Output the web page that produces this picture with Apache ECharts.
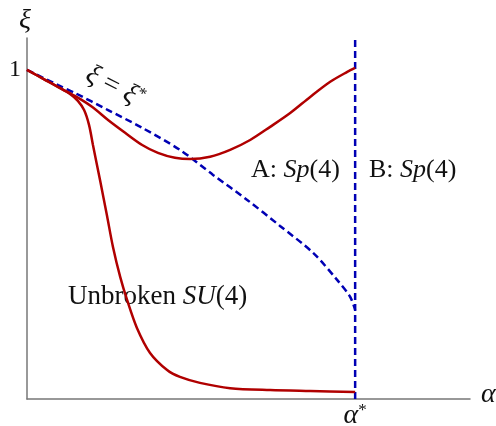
<!DOCTYPE html>
<html>
<head>
    <meta charset="utf-8">
    <title>xi vs alpha</title>
    <script src="https://cdn.jsdelivr.net/npm/echarts@6/dist/echarts.min.js"></script>
    <style>
        html, body { margin: 0; padding: 0; background: #fff; }
    </style>
</head>
<body>
    <div id="main" style="width: 496px;height:426px;"></div>
    <script type="text/javascript">
        // data, alpha in units of alpha*, xi in units of 1
        var upperX = [0, 0.055, 0.095, 0.146, 0.198, 0.247, 0.299, 0.351, 0.399, 0.451, 0.497, 0.558, 0.619, 0.680, 0.741, 0.802, 0.863, 0.924, 0.976, 1.0];
        var upperY = [1.0, 0.970, 0.948, 0.921, 0.888, 0.848, 0.809, 0.772, 0.748, 0.733, 0.729, 0.736, 0.757, 0.787, 0.827, 0.869, 0.918, 0.964, 0.994, 1.006];

        var lowerX = [0, 0.055, 0.095, 0.131, 0.155, 0.174, 0.189, 0.201, 0.223, 0.244, 0.262, 0.284, 0.305, 0.335, 0.375, 0.427, 0.466, 0.527, 0.619, 0.741, 0.863, 1.0];
        var lowerY = [1.0, 0.970, 0.948, 0.927, 0.906, 0.878, 0.833, 0.772, 0.663, 0.556, 0.462, 0.371, 0.301, 0.216, 0.140, 0.088, 0.067, 0.049, 0.033, 0.027, 0.024, 0.021];

        var starX = [0, 0.095, 0.146, 0.247, 0.351, 0.466, 0.567, 0.671, 0.771, 0.872, 0.945, 0.985, 1.0];
        var starY = [1.0, 0.954, 0.930, 0.878, 0.824, 0.757, 0.681, 0.605, 0.526, 0.444, 0.362, 0.310, 0.271];

        var alphaStar = 1.0;
        var xMax = 1.35;
        var yMax = 1.097;

        function pairs(xs, ys) {
            return xs.map(function (x, i) { return [x, ys[i]]; });
        }

        var serif = '"Liberation Serif", "DejaVu Serif", serif';
        var red = '#b00000';
        var blue = '#0000b4';

        var myChart = echarts.init(document.getElementById('main'));

        myChart.setOption({
            animation: false,
            grid: { left: 27, right: 26, top: 38, bottom: 27, outerBoundsMode: 'none' },
            xAxis: {
                type: 'value', min: 0, max: xMax,
                axisLine: { show: true, lineStyle: { color: '#777', width: 1.5 } },
                axisTick: { show: false },
                splitLine: { show: false },
                axisLabel: {
                    customValues: [alphaStar],
                    margin: 3,
                    formatter: function () { return '{a|α}{s|*}'; },
                    rich: {
                        a: { fontFamily: serif, fontStyle: 'italic', fontSize: 28, color: '#111' },
                        s: { fontFamily: serif, fontSize: 17, color: '#111', verticalAlign: 'top', padding: [0, 0, 8, 0] }
                    }
                }
            },
            yAxis: {
                type: 'value', min: 0, max: yMax,
                axisLine: { show: true, lineStyle: { color: '#777', width: 1.5 } },
                axisTick: { show: false },
                splitLine: { show: false },
                axisLabel: {
                    customValues: [1],
                    margin: 6,
                    formatter: '1',
                    fontFamily: serif, fontSize: 24, color: '#111'
                }
            },
            series: [
                {
                    type: 'line', data: pairs(starX, starY), smooth: 0.3, showSymbol: false,
                    lineStyle: { color: blue, width: 2.5, type: [7, 4] }
                },
                {
                    type: 'line', data: [[alphaStar, 0], [alphaStar, yMax]], showSymbol: false,
                    lineStyle: { color: blue, width: 2.5, type: [7, 4] }
                },
                {
                    type: 'line', data: pairs(upperX, upperY), smooth: 0.3, showSymbol: false,
                    lineStyle: { color: red, width: 2.5 }
                },
                {
                    type: 'line', data: pairs(lowerX, lowerY), smooth: 0.3, showSymbol: false,
                    lineStyle: { color: red, width: 2.5 }
                }
            ],
            graphic: [
                { type: 'text', left: 19, top: 7, style: { text: 'ξ', font: 'italic 28px ' + serif, fill: '#111' } },
                { type: 'text', left: 481, top: 381, style: { text: 'α', font: 'italic 28px ' + serif, fill: '#111' } },
                {
                    type: 'text', x: 115, y: 87, rotation: -0.47,
                    style: {
                        text: '{i|ξ} = {i|ξ}{s|*}', align: 'center', verticalAlign: 'middle',
                        font: '28px ' + serif, fill: '#111',
                        rich: {
                            i: { fontFamily: serif, fontStyle: 'italic', fontSize: 28 },
                            s: { fontFamily: serif, fontSize: 17, verticalAlign: 'top', padding: [0, 0, 9, 0] }
                        }
                    }
                },
                {
                    type: 'text', left: 251, top: 157,
                    style: {
                        text: 'A: {i|Sp}(4)', font: '26px ' + serif, fill: '#111',
                        rich: { i: { fontFamily: serif, fontStyle: 'italic', fontSize: 26 } }
                    }
                },
                {
                    type: 'text', left: 369, top: 157,
                    style: {
                        text: 'B: {i|Sp}(4)', font: '26px ' + serif, fill: '#111',
                        rich: { i: { fontFamily: serif, fontStyle: 'italic', fontSize: 26 } }
                    }
                },
                {
                    type: 'text', left: 68, top: 283,
                    style: {
                        text: 'Unbroken {i|SU}(4)', font: '27px ' + serif, fill: '#111',
                        rich: { i: { fontFamily: serif, fontStyle: 'italic', fontSize: 27 } }
                    }
                }
            ]
        });
    </script>
</body>
</html>
